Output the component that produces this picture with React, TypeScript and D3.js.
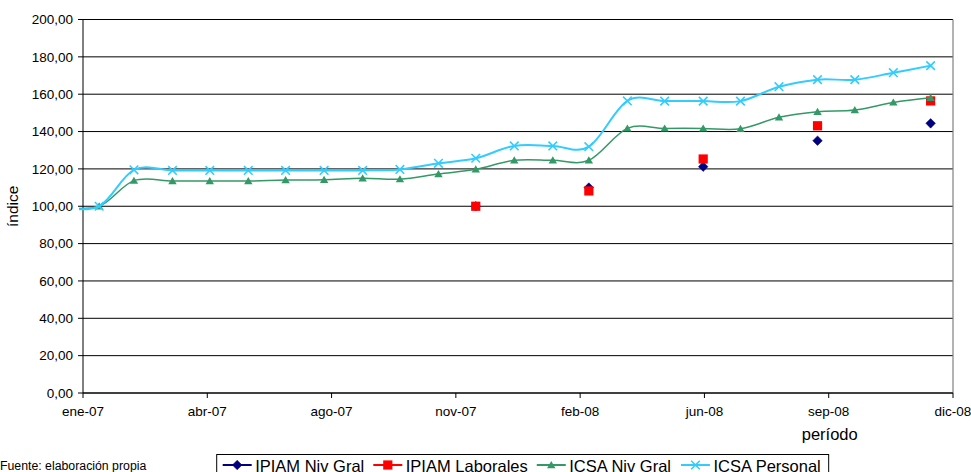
import React from "react";
import * as d3 from "d3";

// ---- data ----
const months = [
  "2007-01-01", "2007-02-01", "2007-03-01", "2007-04-01", "2007-05-01", "2007-06-01",
  "2007-07-01", "2007-08-01", "2007-09-01", "2007-10-01", "2007-11-01", "2007-12-01",
  "2008-01-01", "2008-02-01", "2008-03-01", "2008-04-01", "2008-05-01", "2008-06-01",
  "2008-07-01", "2008-08-01", "2008-09-01", "2008-10-01", "2008-11-01", "2008-12-01",
];
const ipiamNivGral: (number | null)[] = [
  null, null, null, null, null, null, null, null, null, null, null, 100,
  null, null, 110, null, null, 121.2, null, null, 135.1, null, null, 144.4,
];
const ipiamLaborales: (number | null)[] = [
  null, null, null, null, null, null, null, null, null, null, null, 100,
  null, null, 108.2, null, null, 125.3, null, null, 143.1, null, null, 156.4,
];
const icsaNivGral = [
  99.5, 100, 113.7, 113.5, 113.5, 113.5, 114, 114.2, 115, 114.5, 117.3, 119.8,
  124.6, 124.6, 124.6, 141.7, 141.7, 141.7, 141.5, 147.6, 150.6, 151.5, 155.6, 158.1,
];
const icsaPersonal = [
  99.5, 100, 119.5, 119.2, 119.2, 119.2, 119.2, 119.2, 119.2, 119.7, 123, 125.7,
  132.3, 132.3, 131.9, 156.4, 156.3, 156.3, 156.3, 164, 167.8, 167.8, 171.5, 175.3,
];
const seriesNames = ["IPIAM Niv Gral", "IPIAM Laborales", "ICSA Niv Gral", "ICSA Personal"];
const yTicks = [0, 20, 40, 60, 80, 100, 120, 140, 160, 180, 200];
const xTickLabels = ["ene-07", "abr-07", "ago-07", "nov-07", "feb-08", "jun-08", "sep-08", "dic-08"];
const xDomain = ["2007-01-19", "2008-12-19"];
const xTickStepDays = 100;

// ---- layout ----
const W = 971;
const H = 472;
const L = 83;
const R = 953;
const T = 19.5;
const B = 393;
const FONT = "'Liberation Sans', Arial, sans-serif";
const NAVY = "#000080";
const RED = "#FF0000";
const GREEN = "#339966";
const CYAN = "#33CCFF";

const parse = d3.timeParse("%Y-%m-%d");

function measure(text: string, size: number) {
  if (typeof document === "undefined") return text.length * size * 0.5;
  const c = document.createElement("canvas");
  const ctx = c.getContext("2d");
  if (!ctx) return text.length * size * 0.5;
  ctx.font = `${size}px 'Liberation Sans', Arial, sans-serif`;
  return ctx.measureText(text).width;
}

function Marker({ kind, x, y }: { kind: number; x: number; y: number }) {
  if (kind === 0) {
    const s = 4.8;
    return (
      <path
        d={`M${x},${y - s}L${x + s},${y}L${x},${y + s}L${x - s},${y}Z`}
        fill={NAVY}
        stroke={NAVY}
        strokeWidth={0.5}
      />
    );
  }
  if (kind === 1) {
    const s = 4.6;
    return <rect x={x - s} y={y - s} width={2 * s} height={2 * s} fill={RED} />;
  }
  if (kind === 2) {
    return (
      <path
        d={`M${x},${y - 4}L${x + 4.2},${y + 3.2}L${x - 4.2},${y + 3.2}Z`}
        fill={GREEN}
      />
    );
  }
  const s = 4.3;
  return (
    <path
      d={`M${x - s},${y - s}L${x + s},${y + s}M${x - s},${y + s}L${x + s},${y - s}`}
      stroke={CYAN}
      strokeWidth={1.6}
      fill="none"
    />
  );
}

export default function App() {
  const dates = months.map((m) => parse(m) as Date);
  const d0 = parse(xDomain[0]) as Date;
  const d1 = parse(xDomain[1]) as Date;
  const x = d3.scaleTime().domain([d0, d1]).range([L, R]);
  const y = d3.scaleLinear().domain([0, 200]).range([B, T]);
  const tickDates = xTickLabels.map((_, i) => d3.timeDay.offset(d0, i * xTickStepDays));
  const fmt = (v: number) => d3.format(".2f")(v).replace(".", ",");

  const line = d3
    .line<[Date, number]>()
    .x((d) => x(d[0]))
    .y((d) => y(d[1]))
    .curve(d3.curveCardinal.tension(0));

  const allSeries = [ipiamNivGral, ipiamLaborales, icsaNivGral, icsaPersonal];
  const lineSeries = [
    { data: icsaNivGral, color: GREEN, width: 1.5, kind: 2 },
    { data: icsaPersonal, color: CYAN, width: 2, kind: 3 },
  ];

  // legend layout
  const legendFont = 16.5;
  const lineLen = 29;
  let cx = L + 139.7;
  const legendItems = seriesNames.map((name, i) => {
    const item = { name, i, x: cx };
    cx += lineLen + 3.5 + measure(name, legendFont) + 9;
    return item;
  });
  const legendLeft = legendItems[0].x - 6;
  const legendRight = cx - 9 + 7;
  const legendColors = [NAVY, RED, GREEN, CYAN];
  const legendY = 465;

  return (
    <svg
      width={W}
      height={H}
      style={{ position: "absolute", left: 0, top: 0, background: "#fff" }}
      fontFamily={FONT}
    >
      <defs>
        <clipPath id="plotClip">
          <rect x={79} y={0} width={R - 79 + 20} height={H} />
        </clipPath>
      </defs>
      <rect x={0} y={0} width={W} height={H} fill="#fff" />

      {/* gridlines */}
      {yTicks.map((t) => (
        <line key={"g" + t} x1={L} x2={R} y1={y(t)} y2={y(t)} stroke="#000" strokeWidth={1} />
      ))}
      {/* right border */}
      <line x1={R} x2={R} y1={T} y2={B} stroke="#808080" strokeWidth={1.2} />

      {/* y axis */}
      <line x1={L} x2={L} y1={T} y2={B} stroke="#000" strokeWidth={1} />
      {yTicks.map((t) => (
        <g key={"yt" + t}>
          <line x1={L - 5} x2={L} y1={y(t)} y2={y(t)} stroke="#000" />
          <text x={L - 10} y={y(t)} dy="0.35em" textAnchor="end" fontSize={13.5} fill="#000">
            {fmt(t)}
          </text>
        </g>
      ))}

      {/* x axis */}
      <line x1={L} x2={R} y1={B} y2={B} stroke="#000" />
      {tickDates.map((d, i) => (
        <g key={"xt" + i}>
          <line x1={x(d)} x2={x(d)} y1={B} y2={B + 5} stroke="#000" />
          <text x={x(d)} y={416} textAnchor="middle" fontSize={13.5} fill="#000">
            {xTickLabels[i]}
          </text>
        </g>
      ))}

      {/* axis titles */}
      <text
        transform={`translate(18.3,${(T + B) / 2}) rotate(-90)`}
        textAnchor="middle"
        fontSize={15.5}
        fill="#000"
      >
        índice
      </text>
      <text x={829.7} y={440} textAnchor="middle" fontSize={16.5} fill="#000">
        período
      </text>

      {/* marker-only series */}
      {[ipiamNivGral, ipiamLaborales].map((s, k) => (
        <g key={"ms" + k}>
          {s.map((v, i) =>
            v == null ? null : <Marker key={i} kind={k} x={x(dates[i])} y={y(v)} />
          )}
        </g>
      ))}

      {/* line series */}
      {lineSeries.map((s, k) => {
        const pts = s.data.map((v, i) => [dates[i], v] as [Date, number]);
        return (
          <g key={"ls" + k}>
            <path
              d={line(pts) || ""}
              fill="none"
              stroke={s.color}
              strokeWidth={s.width}
              clipPath="url(#plotClip)"
            />
            {pts.map((p, i) =>
              x(p[0]) < L ? null : <Marker key={i} kind={s.kind} x={x(p[0])} y={y(p[1])} />
            )}
          </g>
        );
      })}

      {/* source */}
      <text x={0} y={470} fontSize={12.3} fill="#000">
        Fuente: elaboración propia
      </text>

      {/* legend */}
      <rect
        x={legendLeft}
        y={454.5}
        width={legendRight - legendLeft}
        height={24}
        fill="#fff"
        stroke="#000"
        strokeWidth={1}
      />
      {legendItems.map((it) => (
        <g key={"lg" + it.i}>
          <line
            x1={it.x}
            x2={it.x + lineLen}
            y1={legendY}
            y2={legendY}
            stroke={legendColors[it.i]}
            strokeWidth={2}
          />
          <Marker kind={it.i} x={it.x + lineLen / 2} y={legendY} />
          <text x={it.x + lineLen + 3.5} y={471.5} fontSize={legendFont} fill="#000">
            {it.name}
          </text>
        </g>
      ))}
      {allSeries.length === 0 ? null : null}
    </svg>
  );
}
